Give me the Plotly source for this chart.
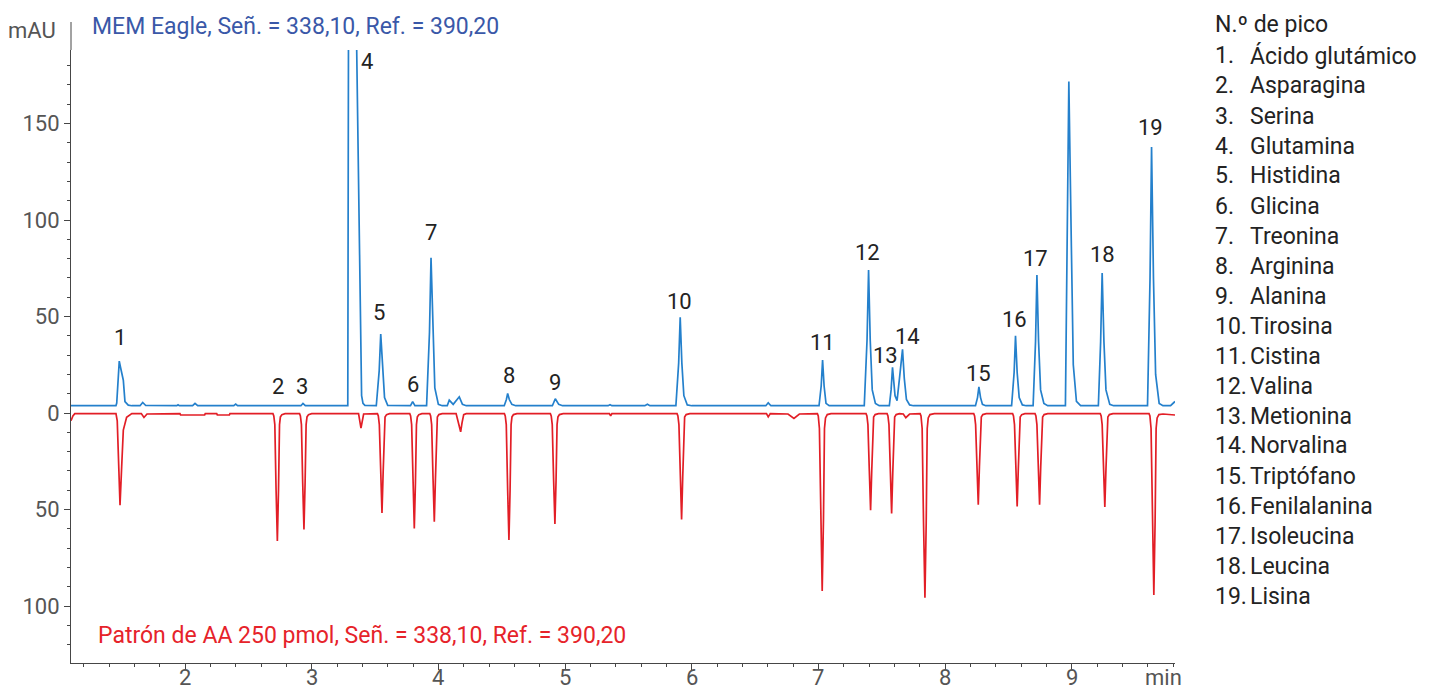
import plotly.graph_objects as go

# ---------------- data ----------------
blue_time = [1.100, 1.300,
             1.455, 1.461, 1.474, 1.481, 1.490, 1.513, 1.526, 1.552, 1.580,
             1.645, 1.666, 1.690, 1.935, 1.945, 1.955, 2.060, 2.079, 2.100,
             2.385, 2.400, 2.415, 2.720, 2.734, 2.748, 2.915, 2.931, 2.950,
             3.285, 3.289, 3.292, 3.342, 3.360, 3.380, 3.394, 3.405, 3.420,
             3.510, 3.533, 3.545, 3.559, 3.575, 3.600,
             3.780, 3.797, 3.815,
             3.907, 3.930, 3.942, 3.956, 3.972, 4.000, 4.030,
             4.070, 4.086, 4.117, 4.165, 4.190, 4.220,
             4.520, 4.537, 4.547, 4.560, 4.580, 4.610,
             4.900, 4.923, 4.950, 4.980,
             5.340, 5.355, 5.370, 5.630, 5.650, 5.670,
             5.875, 5.897, 5.909, 5.922, 5.938, 5.965, 6.000,
             6.585, 6.604, 6.625,
             7.005, 7.022, 7.033, 7.045, 7.060, 7.085,
             7.362, 7.384, 7.396, 7.409, 7.425, 7.450, 7.480,
             7.560, 7.574, 7.585, 7.605, 7.621, 7.640, 7.664, 7.678, 7.695, 7.720, 7.750,
             8.240, 8.256, 8.267, 8.280, 8.295, 8.320,
             8.525, 8.545, 8.556, 8.569, 8.585, 8.610, 8.640,
             8.695, 8.714, 8.725, 8.738, 8.754, 8.780, 8.810,
             8.950, 8.962, 8.977, 8.997, 9.012, 9.037, 9.070,
             9.210, 9.228, 9.240, 9.254, 9.270, 9.300, 9.330,
             9.598, 9.618, 9.630, 9.645, 9.662, 9.690, 9.720,
             9.780, 9.800, 9.815]
blue_mau = [3.8, 3.7,
            3.8, 5.2, 20.7, 26.9, 24.0, 17.0, 5.9, 4.1, 3.8,
            3.8, 5.5, 3.9, 3.8, 4.3, 3.8, 3.8, 5.0, 3.8,
            3.8, 4.6, 3.8, 3.8, 4.1, 3.8, 3.8, 5.0, 3.8,
            3.8, 100, 250, 250, 170, 70, 9.0, 5.0, 4.0,
            3.8, 22, 40.9, 22, 8, 4.0,
            3.8, 5.9, 3.8,
            3.8, 42, 80.5, 42, 13, 4.5, 3.8,
            3.8, 6.7, 4.5, 8.4, 4.5, 3.8,
            3.8, 7.0, 10.2, 7.0, 4.5, 3.8,
            3.8, 7.4, 4.5, 3.8,
            3.8, 4.3, 3.8, 3.8, 4.6, 3.8,
            3.8, 26, 49.6, 26, 9, 4.2, 3.8,
            3.8, 5.3, 3.8,
            3.8, 14, 27.5, 14, 5, 3.8,
            3.8, 38, 74.1, 38, 12, 5.0, 3.8,
            3.8, 12, 23.7, 9.0, 6.4, 18, 33.0, 18, 7, 4.2, 3.8,
            3.8, 8.0, 13.6, 8.0, 4.5, 3.8,
            3.8, 21, 40.0, 21, 8, 4.2, 3.8,
            3.8, 37, 71.5, 37, 12, 5.0, 3.8,
            3.8, 86, 171.8, 86, 25, 6.0, 3.8,
            3.8, 37, 72.6, 37, 12, 4.5, 3.8,
            3.8, 70, 137.9, 70, 20, 5.0, 3.8,
            3.8, 5.0, 6.0]

red_time = [1.100, 1.115, 1.130,
            1.455, 1.465, 1.475, 1.487, 1.500, 1.513, 1.539, 1.580,
            1.655, 1.676, 1.700,
            1.960, 1.965, 2.155, 2.160, 2.250, 2.255, 2.350, 2.355,
            2.694, 2.701, 2.709, 2.719, 2.729, 2.738, 2.746, 2.753, 2.765, 2.790,
            2.904, 2.911, 2.919, 2.929, 2.939, 2.948, 2.956, 2.963, 2.975, 3.000,
            3.370, 3.389, 3.410,
            3.519, 3.526, 3.534, 3.545, 3.555, 3.564, 3.572, 3.579, 3.591, 3.615,
            3.774, 3.781, 3.789, 3.800, 3.810, 3.819, 3.827, 3.834, 3.846, 3.870,
            3.932, 3.939, 3.947, 3.958, 3.968, 3.977, 3.985, 3.992, 4.004, 4.030,
            4.140, 4.150, 4.165, 4.176, 4.187, 4.200, 4.220,
            4.521, 4.528, 4.536, 4.547, 4.557, 4.566, 4.574, 4.581, 4.593, 4.620,
            4.884, 4.891, 4.899, 4.910, 4.920, 4.929, 4.937, 4.944, 4.956, 4.985,
            5.350, 5.360, 5.370,
            5.884, 5.891, 5.899, 5.910, 5.920, 5.929, 5.937, 5.944, 5.956, 5.985,
            6.590, 6.604, 6.620, 6.760, 6.807, 6.850,
            6.992, 6.999, 7.008, 7.019, 7.030, 7.040, 7.048, 7.056, 7.070, 7.100,
            7.376, 7.383, 7.391, 7.402, 7.412, 7.421, 7.429, 7.436, 7.448, 7.475,
            7.542, 7.549, 7.557, 7.568, 7.578, 7.587, 7.595, 7.602, 7.614, 7.640,
            7.670, 7.690, 7.720,
            7.803, 7.810, 7.819, 7.830, 7.841, 7.851, 7.859, 7.867, 7.881, 7.915,
            8.226, 8.233, 8.241, 8.252, 8.262, 8.271, 8.279, 8.286, 8.298, 8.325,
            8.533, 8.540, 8.548, 8.559, 8.569, 8.578, 8.586, 8.593, 8.605, 8.630,
            8.710, 8.717, 8.725, 8.736, 8.746, 8.755, 8.763, 8.770, 8.782, 8.810,
            9.225, 9.232, 9.240, 9.251, 9.261, 9.270, 9.278, 9.285, 9.297, 9.325,
            9.610, 9.617, 9.626, 9.637, 9.648, 9.658, 9.666, 9.674, 9.688, 9.720,
            9.815]
red_mau = [-4.0, -1.5, -0.3,
           -0.3, -4, -25, -47.7, -27.8, -8.8, -2.2, -0.3,
           -0.3, -2.3, -0.5,
           -0.3, -1.0, -1.0, -0.3, -0.3, -1.0, -1.0, -0.3,
           -0.3, -1.5, -6, -40, -66.3, -40, -6, -2.0, -0.8, -0.3,
           -0.3, -1.5, -6, -36, -60.3, -36, -6, -2.0, -0.8, -0.3,
           -0.3, -7.8, -0.5,
           -0.3, -1.5, -6, -31, -51.8, -31, -6, -2.0, -0.8, -0.3,
           -0.3, -1.5, -6, -36, -59.8, -36, -6, -2.0, -0.8, -0.3,
           -0.3, -1.5, -6, -34, -56.3, -34, -6, -2.0, -0.8, -0.3,
           -0.3, -3, -7, -9.7, -5, -0.8, -0.3,
           -0.3, -1.5, -6, -40, -65.8, -40, -6, -2.0, -0.8, -0.3,
           -0.3, -1.5, -6, -35, -57.5, -35, -6, -2.0, -0.8, -0.3,
           -0.3, -1.5, -0.3,
           -0.3, -1.5, -6, -33, -55.1, -33, -6, -2.0, -0.8, -0.3,
           -0.3, -2.0, -0.3, -0.5, -2.8, -0.5,
           -0.3, -1.5, -8, -55, -92.2, -55, -8, -2.5, -0.8, -0.3,
           -0.3, -1.5, -6, -30, -50.3, -30, -6, -2.0, -0.8, -0.3,
           -0.3, -1.5, -6, -31, -52.0, -31, -6, -2.0, -0.8, -0.3,
           -0.5, -2.4, -0.5,
           -0.3, -1.5, -8, -57, -95.7, -57, -8, -2.5, -0.8, -0.3,
           -0.3, -1.5, -6, -28, -47.5, -28, -6, -2.0, -0.8, -0.3,
           -0.3, -1.5, -6, -29, -48.4, -29, -6, -2.0, -0.8, -0.3,
           -0.3, -1.5, -6, -28, -47.5, -28, -6, -2.0, -0.8, -0.3,
           -0.3, -1.5, -6, -29, -48.7, -29, -6, -2.0, -0.8, -0.3,
           -0.3, -1.5, -8, -56, -94.3, -56, -8, -2.5, -0.8, -0.5,
           -1.0]

peak_numbers = [str(i) for i in range(1, 20)]
label_time = [1.487, 2.734, 2.923, 3.436, 3.531, 3.800, 3.942, 4.557, 4.920, 5.907,
              7.036, 7.391, 7.533, 7.706, 8.267, 8.551, 8.717, 9.245, 9.624]
label_mau = [38.9, 14.0, 14.0, 182.4, 52.3, 15.0, 93.3, 19.7, 16.0, 58.0,
             36.8, 83.4, 30.0, 39.9, 20.7, 48.7, 80.3, 81.9, 147.7]

compound_names = ["Ácido glutámico", "Asparagina", "Serina", "Glutamina", "Histidina",
                  "Glicina", "Treonina", "Arginina", "Alanina", "Tirosina", "Cistina",
                  "Valina", "Metionina", "Norvalina", "Triptófano", "Fenilalanina",
                  "Isoleucina", "Leucina", "Lisina"]

y_tick_vals = [-100, -50, 0, 50, 100, 150]
y_tick_text = ["100", "50", "0", "50", "100", "150"]
x_tick_vals = [2, 3, 4, 5, 6, 7, 8, 9]
x_tick_text = ["2", "3", "4", "5", "6", "7", "8", "9"]

blue_title = "MEM Eagle, Señ. = 338,10, Ref. = 390,20"
red_title = "Patrón de AA 250 pmol, Señ. = 338,10, Ref. = 390,20"

# ---------------- figure ----------------
FONT = "Roboto"
FS = 22
FS_TXT = 23
W, H = 1433, 690
ML, MR, MT, MB = 71, 258, 50, 27
PW, PH = W - ML - MR, H - MT - MB
GRAY = "rgb(85,85,85)"
DARK = "rgb(35,35,35)"
XLAB_Y = 677


def px(xp):
    return (xp - ML) / PW


def py(yp):
    return (H - MB - yp) / PH


fig = go.Figure()
fig.add_trace(go.Scatter(x=blue_time, y=blue_mau, mode="lines",
                         line=dict(color="rgb(36,128,204)", width=1.7),
                         hoverinfo="skip", showlegend=False))
fig.add_trace(go.Scatter(x=red_time, y=red_mau, mode="lines",
                         line=dict(color="rgb(226,30,38)", width=1.7),
                         hoverinfo="skip", showlegend=False))

ann = []
for t, v, s in zip(label_time, label_mau, peak_numbers):
    ann.append(dict(x=t, y=v, xref="x", yref="y", text=s, showarrow=False,
                    font=dict(family=FONT, size=FS, color=DARK),
                    xanchor="center", yanchor="middle"))

# x tick labels (drawn as text so they sit where the reference has them)
for t, s in zip(x_tick_vals, x_tick_text):
    ann.append(dict(x=t, y=py(XLAB_Y), xref="x", yref="paper", text=s, showarrow=False,
                    font=dict(family=FONT, size=FS, color=GRAY),
                    xanchor="center", yanchor="middle", borderpad=0))

ann.append(dict(x=px(90), y=py(26), xref="paper", yref="paper", text=blue_title,
                showarrow=False, xanchor="left", yanchor="middle",
                font=dict(family=FONT, size=FS_TXT, color="rgb(58,88,168)")))
ann.append(dict(x=px(96), y=py(635), xref="paper", yref="paper", text=red_title,
                showarrow=False, xanchor="left", yanchor="middle",
                font=dict(family=FONT, size=FS_TXT, color="rgb(230,35,42)")))
ann.append(dict(x=px(58), y=py(30), xref="paper", yref="paper", text="mAU",
                showarrow=False, xanchor="right", yanchor="middle",
                font=dict(family=FONT, size=FS, color=GRAY)))
ann.append(dict(x=px(1163), y=py(XLAB_Y), xref="paper", yref="paper", text="min",
                showarrow=False, xanchor="center", yanchor="middle", borderpad=0,
                font=dict(family=FONT, size=FS, color=GRAY)))

# peak legend
ann.append(dict(x=px(1213), y=py(25), xref="paper", yref="paper", text="N.º de pico",
                showarrow=False, xanchor="left", yanchor="middle",
                font=dict(family=FONT, size=FS_TXT, color=DARK)))
for i, name in enumerate(compound_names):
    yy = py(56 + 30 * i)
    ann.append(dict(x=px(1213), y=yy, xref="paper", yref="paper", text=f"{i + 1}.",
                    showarrow=False, xanchor="left", yanchor="middle",
                    font=dict(family=FONT, size=FS_TXT, color=DARK)))
    ann.append(dict(x=px(1248), y=yy, xref="paper", yref="paper", text=name,
                    showarrow=False, xanchor="left", yanchor="middle",
                    font=dict(family=FONT, size=FS_TXT, color=DARK)))

axis_col = "rgb(70,70,70)"
fig.update_layout(
    width=W, height=H,
    margin=dict(l=ML, r=MR, t=MT, b=MB, pad=0, autoexpand=False),
    paper_bgcolor="white", plot_bgcolor="white",
    font=dict(family=FONT, size=FS, color=GRAY),
    annotations=ann,
    shapes=[dict(type="line", xref="paper", yref="paper", x0=0, x1=0,
                 y0=1, y1=py(22), line=dict(color=axis_col, width=1))],
    xaxis=dict(range=[1.100, 9.815], showgrid=False, zeroline=False,
               automargin=False, showticklabels=False,
               showline=True, linecolor=axis_col, linewidth=1,
               tickmode="array", tickvals=x_tick_vals,
               ticks="outside", ticklen=6, tickcolor=axis_col, tickwidth=1,
               minor=dict(dtick=0.2, tick0=0, ticks="outside", ticklen=3,
                          tickcolor=axis_col, showgrid=False)),
    yaxis=dict(range=[-129.5, 188.1], showgrid=False, zeroline=False,
               automargin=False,
               showline=True, linecolor=axis_col, linewidth=1,
               tickmode="array", tickvals=y_tick_vals, ticktext=y_tick_text,
               ticks="outside", ticklen=6, tickcolor=axis_col, tickwidth=1,
               tickfont=dict(family=FONT, size=FS, color=GRAY),
               minor=dict(dtick=10, tick0=0, ticks="outside", ticklen=3,
                          tickcolor=axis_col, showgrid=False)),
)

fig.write_html("out.html",
               config={"displayModeBar": False},
               post_script="document.body.style.margin='0';"
                           "document.body.style.overflow='hidden';")
